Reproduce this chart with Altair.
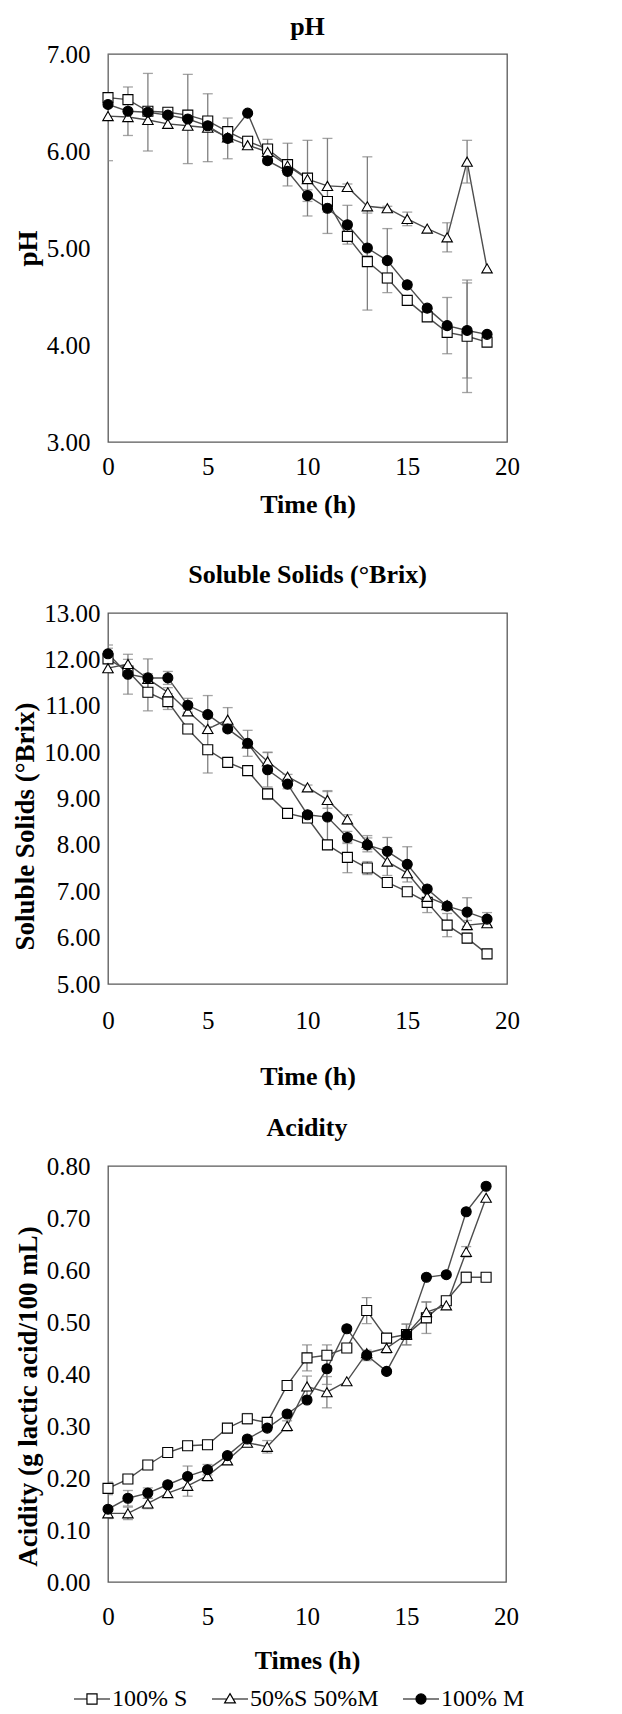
import altair as alt
import pandas as pd

TIME = list(range(20))
SERIES = ["100% S", "50%S 50%M", "100% M"]

# ---- pH ----
PH_S = [6.55, 6.53, 6.41, 6.40, 6.37, 6.31, 6.20, 6.10, 6.02, 5.86, 5.72, 5.48, 5.12, 4.86, 4.69, 4.46, 4.29, 4.13, 4.09, 4.03]
PH_SM = [6.36, 6.35, 6.32, 6.28, 6.26, 6.24, 6.14, 6.06, 5.99, 5.85, 5.71, 5.64, 5.63, 5.43, 5.41, 5.30, 5.20, 5.11, 5.89, 4.79]
PH_M = [6.48, 6.41, 6.40, 6.37, 6.33, 6.26, 6.13, 6.39, 5.90, 5.79, 5.54, 5.41, 5.24, 5.00, 4.87, 4.62, 4.38, 4.20, 4.15, 4.11]
PH_S_SD = [0.65, 0, 0, 0, 0, 0, 0, 0.05, 0.10, 0.22, 0.39, 0, 0.05, 0.50, 0.05, 0.03, 0.03, 0.05, 0.58, 0]
PH_SM_SD = [0, 0, 0, 0, 0, 0.35, 0, 0.02, 0, 0.05, 0, 0.49, 0.03, 0.51, 0.02, 0.07, 0, 0.15, 0.22, 0]
PH_M_SD = [0, 0.25, 0.40, 0.03, 0.46, 0.04, 0.21, 0, 0.03, 0.03, 0.06, 0.04, 0.20, 0, 0.33, 0.03, 0, 0.29, 0.49, 0]

# ---- Soluble solids ----
SS_S = [12.01, 11.75, 11.29, 11.09, 10.50, 10.05, 9.78, 9.60, 9.10, 8.68, 8.58, 8.00, 7.73, 7.50, 7.19, 6.99, 6.76, 6.27, 5.99, 5.65]
SS_SM = [11.81, 11.90, 11.58, 11.29, 10.88, 10.50, 10.70, 10.19, 9.80, 9.47, 9.24, 8.97, 8.55, 8.05, 7.64, 7.39, 6.88, 6.70, 6.27, 6.31]
SS_M = [12.12, 11.68, 11.60, 11.60, 11.01, 10.81, 10.50, 10.19, 9.62, 9.31, 8.65, 8.60, 8.16, 8.00, 7.86, 7.58, 7.05, 6.68, 6.55, 6.40]
SS_S_SD = [0.30, 0, 0.40, 0.17, 0, 0.50, 0.08, 0, 0.12, 0.08, 0, 0, 0.33, 0.14, 0.10, 0.05, 0.22, 0.25, 0.10, 0]
SS_SM_SD = [0, 0.10, 0, 0.10, 0.05, 0, 0.26, 0, 0.20, 0.05, 0.05, 0.18, 0.10, 0.15, 0.30, 0, 0.10, 0, 0.10, 0]
SS_M_SD = [0.12, 0.43, 0.41, 0.14, 0.15, 0.41, 0.05, 0.28, 0.37, 0.10, 0, 0.57, 0.13, 0.15, 0.30, 0.38, 0, 0, 0.31, 0.14]

# ---- Acidity ----
AC_S = [0.180, 0.198, 0.225, 0.249, 0.262, 0.264, 0.296, 0.314, 0.307, 0.378, 0.431, 0.436, 0.450, 0.522, 0.469, 0.476, 0.508, 0.541, 0.586, 0.586]
AC_SM = [0.132, 0.132, 0.151, 0.171, 0.185, 0.204, 0.234, 0.268, 0.260, 0.300, 0.376, 0.365, 0.386, 0.440, 0.450, 0.476, 0.519, 0.532, 0.635, 0.739]
AC_M = [0.140, 0.161, 0.171, 0.187, 0.203, 0.216, 0.243, 0.275, 0.296, 0.323, 0.350, 0.410, 0.487, 0.436, 0.405, 0.476, 0.586, 0.591, 0.712, 0.761]
AC_S_SD = [0.012, 0, 0, 0, 0, 0, 0, 0.010, 0, 0, 0.025, 0.020, 0, 0.025, 0, 0.020, 0.030, 0, 0.010, 0]
AC_SM_SD = [0.010, 0.012, 0.010, 0, 0.020, 0.010, 0.008, 0.008, 0.012, 0.010, 0.020, 0.030, 0, 0, 0.010, 0.020, 0.020, 0, 0.010, 0]
AC_M_SD = [0, 0.015, 0.010, 0, 0.020, 0.010, 0, 0, 0, 0, 0, 0.030, 0, 0.010, 0, 0, 0, 0, 0, 0]

FONT = "Liberation Serif"
LINE_COLOR = "#4d4d4d"
ERR_COLOR = "#7f7f7f"

SHAPES = {"100% S": ("square", "white", 100), "50%S 50%M": ("triangle-up", "white", 110), "100% M": ("circle", "black", 100)}

LEG_PATHS = [
    "M-1,0H-0.28M0.28,0H1M-0.28,-0.28H0.28V0.28H-0.28Z",
    "M-1,0H-0.17M0.17,0H1M0,-0.3L0.3,0.22H-0.3Z",
    "M-1,0H1M0.28,0A0.28,0.28 0 1,1 -0.28,0A0.28,0.28 0 1,1 0.28,0Z",
]


def long_df(vals, sds):
    rows = []
    for name, v, s in zip(SERIES, vals, sds):
        for t, a, b in zip(TIME, v, s):
            rows.append({"time": t, "series": name, "value": a, "sd": b, "lo": a - b, "hi": a + b})
    return pd.DataFrame(rows)


def panel(df, title, ytitle, xtitle, ydom, yvals, w, h, title_off, ylab_pad, ytit_pad, xlab_pad, xtit_pad,
          ytitle_y, xtitle_lh=None, legend=False):
    xs = alt.Scale(domain=[0, 20], nice=False)
    ys = alt.Scale(domain=ydom, nice=False, zero=False)
    xkw = dict(values=[0, 5, 10, 15, 20], labelPadding=xlab_pad, titlePadding=xtit_pad, labelFlush=False)
    if xtitle_lh is not None:
        xkw["titleLineHeight"] = xtitle_lh
    xaxis = alt.Axis(**xkw)
    yaxis = alt.Axis(values=yvals, format=".2f", labelPadding=ylab_pad, titlePadding=ytit_pad, titleY=ytitle_y)
    X = alt.X("time:Q", scale=xs, axis=xaxis, title=xtitle)

    def Y(field):
        return alt.Y(field, scale=ys, axis=yaxis, title=ytitle)

    base = alt.Chart(df)
    lines = base.mark_line(color=LINE_COLOR, strokeWidth=1.4).encode(x=X, y=Y("value:Q"), detail="series:N")
    err = base.transform_filter(alt.datum.sd > 0)
    rules = err.mark_rule(color=ERR_COLOR, strokeWidth=1.3, clip=True).encode(x=X, y=Y("lo:Q"), y2="hi:Q")
    cap_lo = err.mark_tick(color=ERR_COLOR, orient="horizontal", size=10, thickness=1.3, clip=True).encode(x=X, y=Y("lo:Q"))
    cap_hi = err.mark_tick(color=ERR_COLOR, orient="horizontal", size=10, thickness=1.3, clip=True).encode(x=X, y=Y("hi:Q"))
    layers = [lines, rules, cap_lo, cap_hi]
    for name in SERIES:
        shp, fill, size = SHAPES[name]
        layers.append(
            base.transform_filter(alt.datum.series == name)
            .mark_point(shape=shp, filled=True, fill=fill, stroke="black", strokeWidth=1.1, size=size, opacity=1)
            .encode(x=X, y=Y("value:Q"))
        )
    if legend:
        leg = alt.Legend(title=None, orient="none", direction="horizontal", legendX=-35, legendY=514,
                         symbolSize=1296, symbolStrokeColor="black", symbolStrokeWidth=1.2,
                         labelFont=FONT, labelFontSize=24, labelColor="black", labelOffset=1,
                         columnPadding=21, symbolOpacity=1)
        layers.append(
            base.transform_filter("false")
            .mark_point(filled=True, stroke="black", strokeWidth=1.2, opacity=1)
            .encode(
                shape=alt.Shape("series:N", scale=alt.Scale(domain=SERIES, range=LEG_PATHS), legend=leg),
                fill=alt.Fill("series:N", scale=alt.Scale(domain=SERIES, range=["white", "white", "black"]), legend=leg),
                stroke=alt.Stroke("series:N", scale=alt.Scale(domain=SERIES, range=["black", "black", "black"]), legend=leg),
            )
        )
    return alt.layer(*layers).properties(
        width=w, height=h,
        title=alt.TitleParams(title, font=FONT, fontSize=26, fontWeight="bold", color="black", offset=title_off),
    )


ph = panel(long_df([PH_S, PH_SM, PH_M], [PH_S_SD, PH_SM_SD, PH_M_SD]), "pH", "pH", ["Time (h)", ""],
           [3, 7], [3, 4, 5, 6, 7], 399, 388, 2, 18, 4, 12, 12, 194, xtitle_lh=19)
ss = panel(long_df([SS_S, SS_SM, SS_M], [SS_S_SD, SS_SM_SD, SS_M_SD]), "Soluble Solids (°Brix)", "Soluble Solids (°Brix)",
           "Time (h)", [5, 13], list(range(5, 14)), 399, 371, 13, 8, 4, 24, 30, 213)
ac = panel(long_df([AC_S, AC_SM, AC_M], [AC_S_SD, AC_SM_SD, AC_M_SD]), "Acidity", "Acidity (g lactic acid/100 mL)",
           "Times (h)", [0, 0.8], [0, 0.1, 0.2, 0.3, 0.4, 0.5, 0.6, 0.7, 0.8], 398, 416, 13, 18, 4, 22, 18, 230,
           legend=True)

chart = (
    alt.concat(ph, ss, ac, columns=1, spacing=24)
    .resolve_scale(shape="independent", fill="independent", stroke="independent")
    .properties(padding={"left": 3, "top": 5, "right": 5, "bottom": 0})
    .configure_view(stroke="#595959", strokeWidth=1.3)
    .configure_axis(domain=False, ticks=False, grid=False, labelFont=FONT, labelFontSize=25, labelColor="black",
                    titleFont=FONT, titleFontSize=26, titleFontWeight="bold", titleColor="black")
    .configure_axisY(titleFontSize=27)
)

chart.save("out.html", embed_options={"renderer": "svg", "actions": False})
